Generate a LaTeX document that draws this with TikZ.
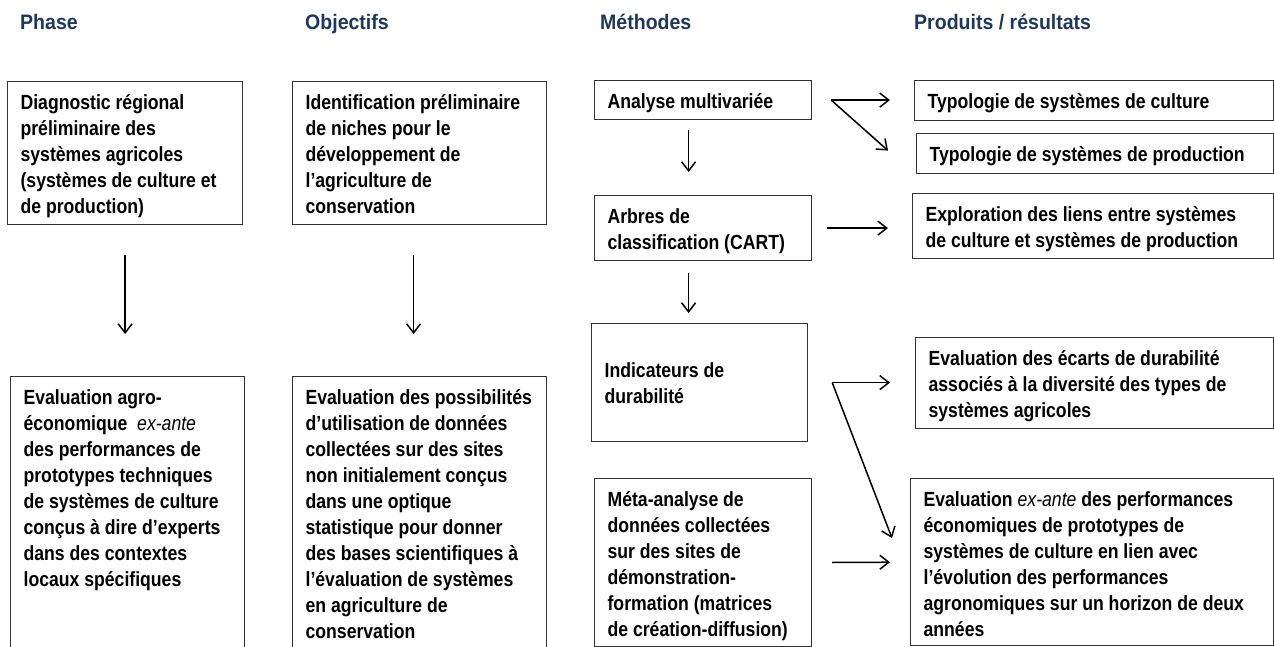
\documentclass[tikz,border=0pt]{standalone}
\usepackage{fontspec}
\setmainfont[FakeStretch=0.86]{Liberation Sans}
\newfontfamily\headfont[FakeStretch=0.93]{Liberation Sans}
\usepackage{tikz}
\usetikzlibrary{arrows.meta}

\newcommand{\boxtext}[3]{\parbox[t][#1][t]{#2}{\raggedright\rule{0pt}{28pt}#3}}

\begin{document}
\begin{tikzpicture}[x=1pt, y=-1pt,
  box/.style={draw=black!80, line width=1.2pt, anchor=north west, inner xsep=13pt, inner ysep=0pt,
    font=\fontsize{20.5}{26}\selectfont\bfseries},
  head/.style={anchor=base west, inner sep=0pt, text=headblue, font=\headfont\fontsize{21}{26}\selectfont\bfseries},
  arr/.style={-{Straight Barb[length=9pt,width=14pt]}, line width=1.5pt}]

\definecolor{headblue}{RGB}{31, 56, 90}

\useasboundingbox (0,0) rectangle (1274,647);

% Column titles
\node[head] (phase) at (20,30) {Phase};
\node[head] (objectifs) at (305,30) {Objectifs};
\node[head] (methodes) at (600,30) {Méthodes};
\node[head] (produits) at (914,30) {Produits / résultats};

% Phase and objectives
\node[box] (diag) at (7,81) {\boxtext{143pt}{209pt}{Diagnostic régional\\ préliminaire des\\ systèmes agricoles\\ (systèmes de culture et\\ de production)}};
\node[box] (ident) at (292,81) {\boxtext{143pt}{228pt}{Identification préliminaire\\ de niches pour le\\ développement de\\ l'agriculture de\\ conservation}};
\node[box] (evalagro) at (10,376) {\boxtext{274pt}{208pt}{Evaluation agro-\\ économique \ {\mdseries\itshape ex-ante}\\ des performances de\\ prototypes techniques\\ de systèmes de culture\\ conçus à dire d'experts\\ dans des contextes\\ locaux spécifiques}};
\node[box] (evalposs) at (292,376) {\boxtext{274pt}{228pt}{Evaluation des possibilités\\ d'utilisation de données\\ collectées sur des sites\\ non initialement conçus\\ dans une optique\\ statistique pour donner\\ des bases scientifiques à\\ l'évaluation de systèmes\\ en agriculture de\\ conservation}};

% Methods
\node[box] (analyse) at (594,80) {\boxtext{39pt}{191pt}{Analyse multivariée}};
\node[box] (arbres) at (594,195) {\boxtext{65pt}{191pt}{Arbres de\\ classification (CART)}};
\node[box] (indic) at (591,323) {\boxtext{118pt}{190pt}{\rule{0pt}{54pt}Indicateurs de\\ durabilité}};
\node[box] (meta) at (594,478) {\boxtext{168pt}{191pt}{Méta-analyse de\\ données collectées\\ sur des sites de\\ démonstration-\\ formation (matrices\\ de création-diffusion)}};

% Products / results
\node[box] (typoc) at (914,80) {\boxtext{40pt}{333pt}{Typologie de systèmes de culture}};
\node[box] (typop) at (916,133) {\boxtext{40pt}{331pt}{Typologie de systèmes de production}};
\node[box] (explo) at (912,193) {\boxtext{65pt}{335pt}{Exploration des liens entre systèmes\\ de culture et systèmes de production}};
\node[box] (ecarts) at (915,337) {\boxtext{91pt}{332pt}{Evaluation des écarts de durabilité\\ associés à la diversité des types de\\ systèmes agricoles}};
\node[box] (exante) at (910,478) {\boxtext{167pt}{337pt}{Evaluation {\mdseries\itshape ex-ante} des performances\\ économiques de prototypes de\\ systèmes de culture en lien avec\\ l'évolution des performances\\ agronomiques sur un horizon de deux\\ années}};

% Vertical arrows
\coordinate (a1) at (diag.south);
\coordinate (a2) at ([xshift=-6pt]ident.south);
\coordinate (a3) at ([xshift=-14.5pt]analyse.south);
\coordinate (a4) at ([xshift=-14.5pt]arbres.south);
\draw[arr, shorten <=30pt, shorten >=42pt] (a1) -- (a1 |- evalagro.north);
\draw[arr, shorten <=30pt, shorten >=42pt] (a2) -- (a2 |- evalposs.north);
\draw[arr, shorten <=10pt, shorten >=23pt] (a3) -- (a3 |- arbres.north);
\draw[arr, shorten <=12pt, shorten >=10pt] (a4) -- (a4 |- indic.north);

% Arrows to products
\coordinate (f1) at ([xshift=19pt]analyse.east);
\draw[arr, shorten >=24pt] (f1) -- (f1 -| typoc.west);
\draw[arr] (f1) -- ([xshift=-28pt,yshift=3pt]typop.west);
\draw[arr, shorten <=15pt, shorten >=24pt] (arbres.east) -- (arbres.east -| explo.west);
\coordinate (f2) at ([xshift=24pt]indic.east);
\draw[arr, shorten >=25pt] (f2) -- (f2 -| ecarts.west);
\draw[arr] (f2) -- ([xshift=-18pt,yshift=24pt]exante.west);
\draw[arr, shorten <=20pt, shorten >=20pt] (meta.east) -- (exante.west);

\end{tikzpicture}
\end{document}
